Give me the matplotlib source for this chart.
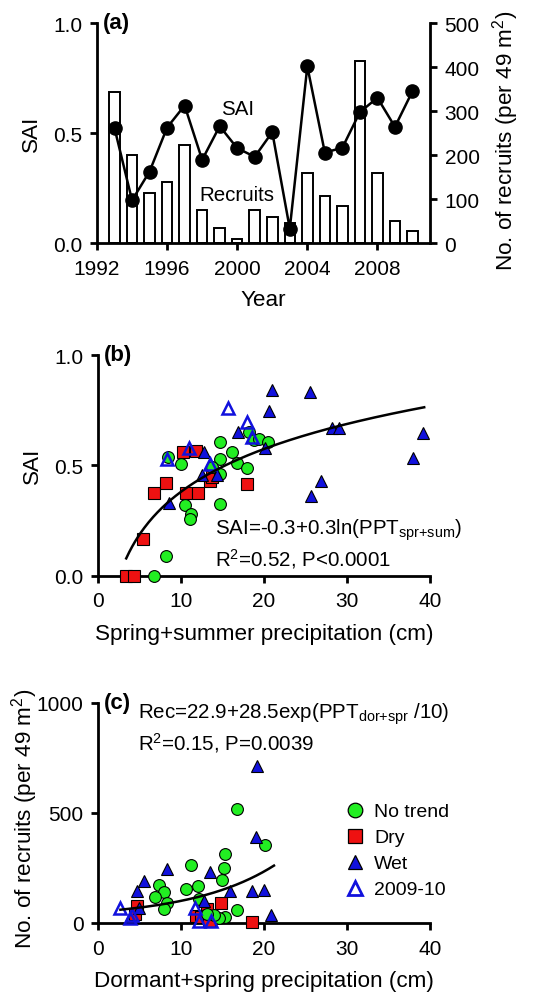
import matplotlib
matplotlib.use('Agg')
import matplotlib.pyplot as plt
import numpy as np
from matplotlib.lines import Line2D

plt.rcParams['font.family'] = ['Liberation Sans', 'DejaVu Sans']
plt.rcParams['mathtext.fontset'] = 'custom'
plt.rcParams['mathtext.rm'] = 'Liberation Sans'
plt.rcParams['mathtext.it'] = 'Liberation Sans:italic'
plt.rcParams['mathtext.bf'] = 'Liberation Sans:bold'
plt.rcParams['font.size'] = 14

# ---- panel (a): yearly SAI and recruits
years = list(range(1993, 2011))
sai = [0.522, 0.194, 0.325, 0.525, 0.625, 0.378, 0.531, 0.431, 0.392,
       0.504, 0.065, 0.803, 0.411, 0.433, 0.595, 0.66, 0.528, 0.69]
recruits = [344, 199, 113, 138, 222, 76, 34, 8, 74, 59, 45, 160, 106, 85,
            414, 158, 50, 28]

# ---- panel (b): SAI vs spring+summer precipitation (cm)
b_none_x = [8.46, 10.0, 10.5, 11.2, 11.1, 8.2, 6.7, 14.7, 14.7, 14.7, 14.7,
            16.2, 16.8, 18.0, 13.7, 18.2, 18.8, 19.4, 20.5]
b_none_y = [0.538, 0.505, 0.318, 0.277, 0.258, 0.088, 0.0, 0.606, 0.53, 0.459,
            0.323, 0.56, 0.509, 0.489, 0.49, 0.65, 0.615, 0.618, 0.606]
b_dry_x = [3.38, 4.32, 5.45, 6.69, 8.2, 10.2, 11.8, 10.6, 12.1, 13.5, 13.7, 17.9]
b_dry_y = [0.0, 0.0, 0.167, 0.373, 0.418, 0.56, 0.565, 0.373, 0.373, 0.429,
           0.445, 0.414]
b_wet_x = [8.57, 12.8, 12.5, 14.3, 16.9, 20.1, 20.6, 21.0, 25.5, 28.2, 29.0,
           39.2, 37.9, 26.9, 25.7]
b_wet_y = [0.33, 0.558, 0.455, 0.455, 0.652, 0.58, 0.747, 0.842, 0.83, 0.671,
           0.671, 0.648, 0.535, 0.429, 0.36]
b_new_x = [8.35, 11.0, 13.5, 15.7, 17.9, 18.6]
b_new_y = [0.527, 0.58, 0.505, 0.758, 0.698, 0.626]

# ---- panel (c): recruits vs dormant+spring precipitation (cm)
c_none_x = [16.7, 20.1, 15.3, 15.2, 14.9, 11.2, 7.3, 7.9, 6.9, 8.26, 8.0, 10.6,
            12.1, 12.2, 16.7, 15.3, 14.6, 14.0, 13.1]
c_none_y = [515, 352, 311, 248, 197, 261, 173, 139, 117, 91, 64, 152, 167, 109,
            61, 26, 21, 36, 41]
c_dry_x = [18.56, 14.85, 13.1, 11.8, 12.4, 13.4, 4.7, 4.5]
c_dry_y = [3, 91, 64, 30, 26, 8, 79, 41]
c_wet_x = [19.1, 19.05, 8.26, 13.45, 5.5, 4.73, 15.9, 18.56, 20.0, 12.8, 20.8, 4.9]
c_wet_y = [712, 389, 245, 233, 192, 147, 147, 147, 150, 102, 36, 70]
c_new_x = [2.65, 4.1, 3.8, 11.7, 12.2, 13.6]
c_new_y = [67, 36, 21, 67, 11, 11]

# fitted curves (as drawn)
b_fit_a, b_fit_b, b_fit_range = -0.265, 0.28, (3.4, 39.3)
c_fit_a, c_fit_b, c_fit_range = 22.9, 28.5, (2.7, 21.2)

GREEN = '#22ee22'
RED = '#ee1111'
BLUE = '#1111dd'
LW = 2.0
TICK_FS = 15
LAB_FS = 16.2
TXT_FS = 14.8

fig = plt.figure(figsize=(5.52, 9.95), dpi=100)


def style(ax, right=False):
    ax.spines['top'].set_visible(False)
    if not right:
        ax.spines['right'].set_visible(False)
    for s in ax.spines.values():
        s.set_linewidth(LW)
    ax.tick_params(direction='out', length=5, width=LW, pad=5.5, labelsize=TICK_FS)
    ax.tick_params(axis='x', pad=6.5)


def groups(ax, data, ms=8.5):
    (nx, ny), (dx, dy), (wx, wy), (ox, oy) = data
    ax.plot(dx, dy, 's', ms=ms - 0.5, mfc=RED, mec='black', mew=0.8, clip_on=False, zorder=3)
    ax.plot(nx, ny, 'o', ms=ms, mfc=GREEN, mec='black', mew=0.8, clip_on=False, zorder=4)
    ax.plot(wx, wy, '^', ms=ms, mfc=BLUE, mec='black', mew=0.8, clip_on=False, zorder=5)
    ax.plot(ox, oy, '^', ms=ms, mfc='none', mec=BLUE, mew=1.8, clip_on=False, zorder=6)


# ---------------- (a)
ax_a = fig.add_axes([97/552, 1-244/995, 333/552, 220/995])
ax_r = ax_a.twinx()
ax_r.bar(years, recruits, width=0.6, color='white', edgecolor='black', linewidth=1.4)
ax_r.set_ylim(0, 500)
ax_r.set_yticks(range(0, 501, 100))
ax_a.set_zorder(ax_r.get_zorder() + 1)
ax_a.patch.set_visible(False)
ax_a.plot(years, sai, '-o', color='black', lw=1.8, ms=9.5, clip_on=False)
ax_a.set_xlim(1992, 2011)
ax_a.set_ylim(0, 1.0)
ax_a.set_xticks([1992, 1996, 2000, 2004, 2008])
ax_a.set_yticks([0, 0.5, 1.0])
ax_a.set_yticklabels(['0.0', '0.5', '1.0'])
style(ax_a)
style(ax_r, right=True)
ax_r.spines['left'].set_visible(False)
ax_r.spines['bottom'].set_visible(False)
ax_a.set_ylabel('SAI', fontsize=LAB_FS)
ax_a.yaxis.set_label_coords(-0.165, 0.5)
ax_a.set_xlabel('Year', fontsize=LAB_FS)
ax_a.xaxis.set_label_coords(0.5, -0.21)
ax_r.set_ylabel('No. of recruits (per 49 m$^2$)', fontsize=LAB_FS)
ax_r.yaxis.set_label_coords(1.18, 0.47)
ax_a.text(2000.0, 0.61, 'SAI', ha='center', va='center', fontsize=TXT_FS)
ax_a.text(2000.0, 0.22, 'Recruits', ha='center', va='center', fontsize=TXT_FS)
ax_a.text(0.018, 1.0, '(a)', transform=ax_a.transAxes, ha='left', va='center',
          fontsize=16, fontweight='bold')

# ---------------- (b)
ax_b = fig.add_axes([98/552, 1-576.5/995, 332/552, 220.5/995])
groups(ax_b, [(b_none_x, b_none_y), (b_dry_x, b_dry_y), (b_wet_x, b_wet_y), (b_new_x, b_new_y)])
xf = np.linspace(b_fit_range[0], b_fit_range[1], 200)
ax_b.plot(xf, b_fit_a + b_fit_b * np.log(xf), color='black', lw=1.8, zorder=7)
ax_b.set_xlim(0, 40)
ax_b.set_ylim(0, 1.0)
ax_b.set_xticks([0, 10, 20, 30, 40])
ax_b.set_yticks([0, 0.5, 1.0])
ax_b.set_yticklabels(['0.0', '0.5', '1.0'])
style(ax_b)
ax_b.set_ylabel('SAI', fontsize=LAB_FS)
ax_b.yaxis.set_label_coords(-0.165, 0.5)
ax_b.set_xlabel('Spring+summer precipitation (cm)', fontsize=LAB_FS)
ax_b.xaxis.set_label_coords(0.5, -0.215)
ax_b.text(14.1, 0.19, r'SAI=-0.3+0.3ln(PPT$_{\mathrm{spr{+}sum}}$)', fontsize=TXT_FS)
ax_b.text(14.1, 0.045, r'R$^2$=0.52, P<0.0001', fontsize=TXT_FS)
ax_b.text(0.018, 1.0, '(b)', transform=ax_b.transAxes, ha='left', va='center',
          fontsize=16, fontweight='bold')

# ---------------- (c)
ax_c = fig.add_axes([98/552, 1-924/995, 332/552, 220.5/995])
groups(ax_c, [(c_none_x, c_none_y), (c_dry_x, c_dry_y), (c_wet_x, c_wet_y), (c_new_x, c_new_y)])
xf = np.linspace(c_fit_range[0], c_fit_range[1], 200)
ax_c.plot(xf, c_fit_a + c_fit_b * np.exp(xf / 10), color='black', lw=1.8, zorder=7)
ax_c.set_xlim(0, 40)
ax_c.set_ylim(0, 1000)
ax_c.set_xticks([0, 10, 20, 30, 40])
ax_c.set_yticks([0, 500, 1000])
style(ax_c)
ax_c.set_ylabel('No. of recruits (per 49 m$^2$)', fontsize=LAB_FS)
ax_c.yaxis.set_label_coords(-0.175, 0.478)
ax_c.set_xlabel('Dormant+spring precipitation (cm)', fontsize=LAB_FS)
ax_c.xaxis.set_label_coords(0.5, -0.215)
ax_c.text(4.8, 932, r'Rec=22.9+28.5exp(PPT$_{\mathrm{dor{+}spr}}$ /10)', fontsize=TXT_FS)
ax_c.text(4.8, 789, r'R$^2$=0.15, P=0.0039', fontsize=TXT_FS)
ax_c.text(0.018, 1.0, '(c)', transform=ax_c.transAxes, ha='left', va='center',
          fontsize=16, fontweight='bold')

handles = [
    Line2D([], [], ls='none', marker='o', ms=10.5, mfc=GREEN, mec='black', mew=0.9),
    Line2D([], [], ls='none', marker='s', ms=9.5, mfc=RED, mec='black', mew=0.9),
    Line2D([], [], ls='none', marker='^', ms=10.5, mfc=BLUE, mec='black', mew=0.9),
    Line2D([], [], ls='none', marker='^', ms=10.5, mfc='none', mec=BLUE, mew=2.0),
]
ax_c.legend(handles, ['No trend', 'Dry', 'Wet', '2009-10'], loc='upper left',
            bbox_to_anchor=(30.0, 545), bbox_transform=ax_c.transData,
            frameon=False, borderpad=0, borderaxespad=0, handlelength=0.8,
            handletextpad=0.6, labelspacing=0.43, fontsize=14)

fig.savefig('out.png', dpi=100)
